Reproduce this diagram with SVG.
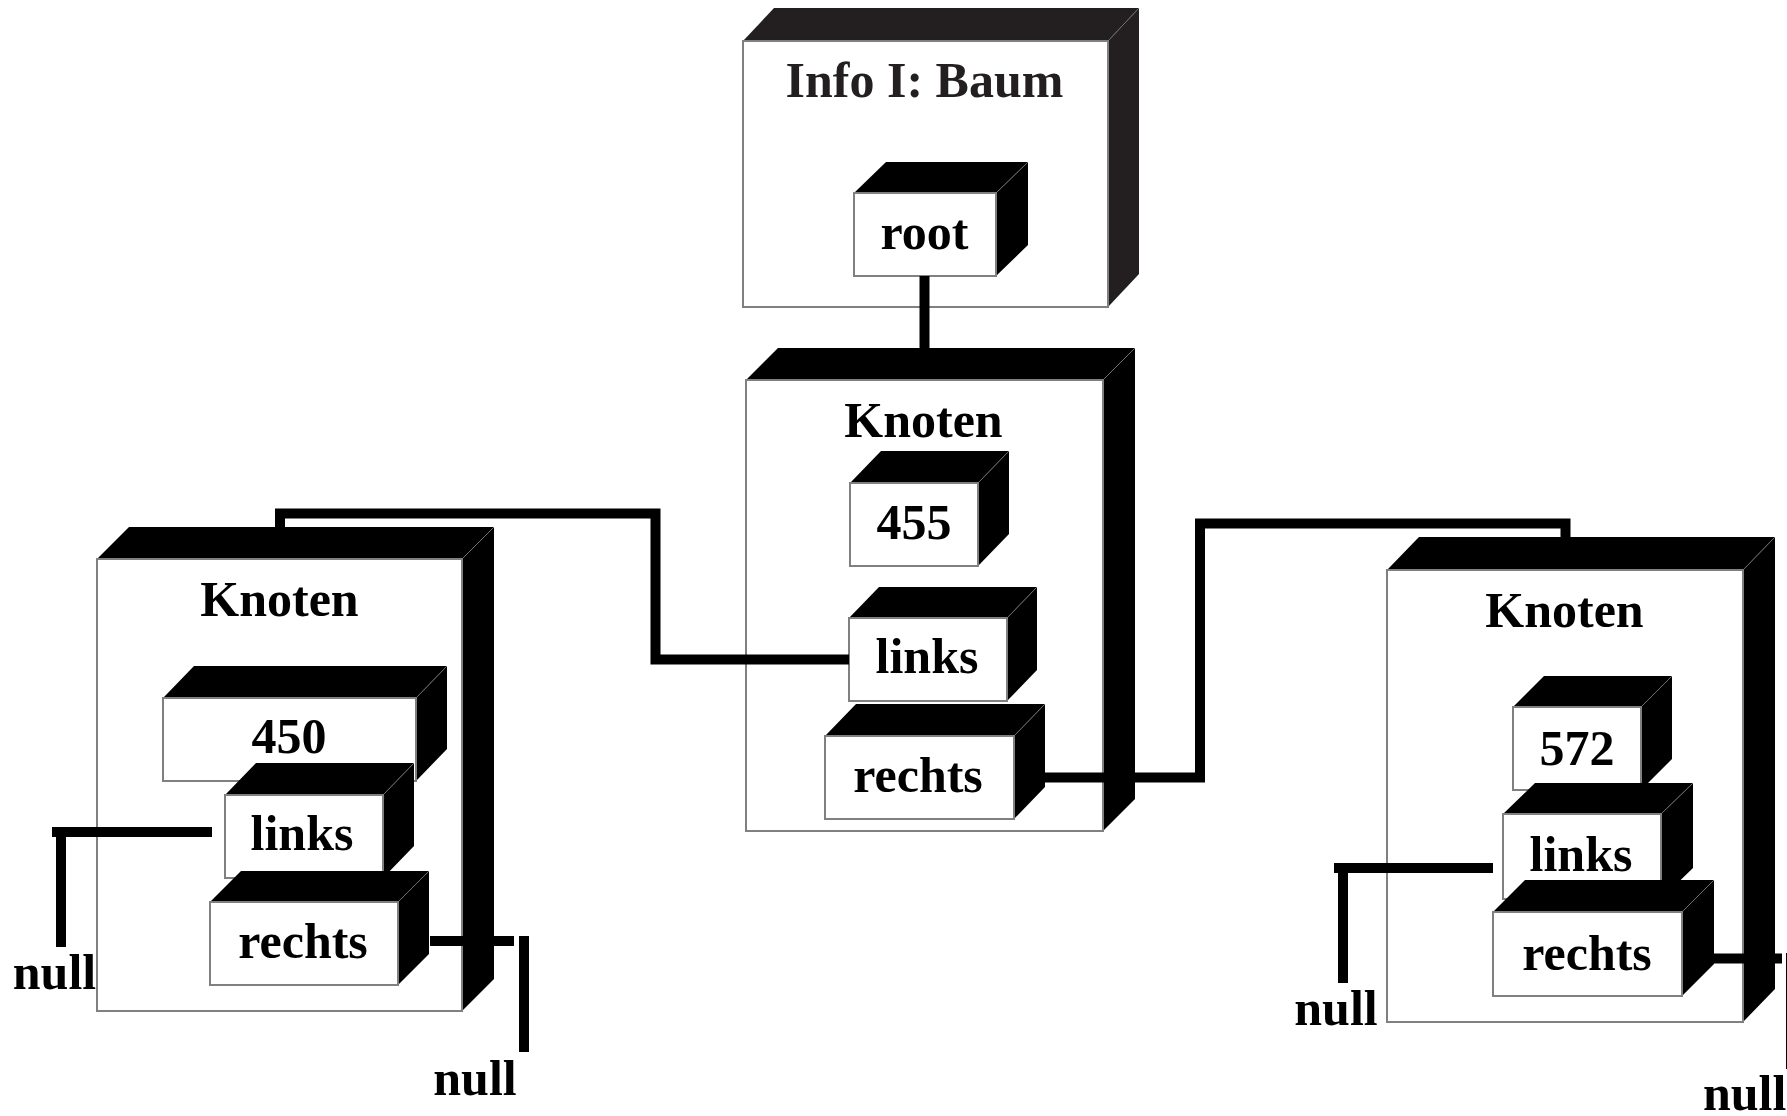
<svg xmlns="http://www.w3.org/2000/svg" width="1787" height="1116" viewBox="0 0 1787 1116">
  <style>
    .front { fill: #ffffff; stroke: #808080; stroke-width: 2; }
    .depth { fill: #000000; }
    .depth.dark { fill: #231f20; }
    .edge { stroke: #6e6e6e; stroke-width: 1; fill: none; }
    .lbl { font-family: "Liberation Serif", "Times New Roman", serif; font-weight: bold; font-size: 50px; fill: #000000; text-anchor: middle; }
    .title { fill: #231f20; }
    .wire { fill: none; stroke: #000000; stroke-width: 10; stroke-linecap: butt; stroke-linejoin: miter; }
  </style>
  <rect width="1787" height="1116" fill="#ffffff"/>

  <!-- class box: Info I: Baum -->
  <g id="info-baum">
    <polygon class="depth dark" points="743,41 774,8 1139,8 1108,41"/>
    <polygon class="depth dark" points="1108,41 1139,8 1139,274 1108,307"/>
    <line class="edge" x1="1108" y1="41" x2="1139" y2="8"/>
    <rect class="front" x="743" y="41" width="365" height="266"/>
    <text class="lbl title" x="924.5" y="97">Info I: Baum</text>
  </g>

  <g id="root">
    <polygon class="depth" points="854,193 886,162 1028,162 996,193"/>
    <polygon class="depth" points="996,193 1028,162 1028,245 996,276"/>
    <line class="edge" x1="996" y1="193" x2="1028" y2="162"/>
    <rect class="front" x="854" y="193" width="142" height="83"/>
    <text class="lbl" x="924.5" y="249">root</text>
  </g>

  <!-- node 455 -->
  <g id="knoten-455">
    <polygon class="depth" points="746,380 778,348 1135,348 1103,380"/>
    <polygon class="depth" points="1103,380 1135,348 1135,799 1103,831"/>
    <line class="edge" x1="1103" y1="380" x2="1135" y2="348"/>
    <rect class="front" x="746" y="380" width="357" height="451"/>
    <text class="lbl" x="923.5" y="437">Knoten</text>
  </g>
  <g id="wert-455">
    <polygon class="depth" points="850,483 881,451 1009,451 978,483"/>
    <polygon class="depth" points="978,483 1009,451 1009,534 978,566"/>
    <line class="edge" x1="978" y1="483" x2="1009" y2="451"/>
    <rect class="front" x="850" y="483" width="128" height="83"/>
    <text class="lbl" x="914" y="539">455</text>
  </g>
  <g id="links-455">
    <polygon class="depth" points="849,618 879,587 1037,587 1007,618"/>
    <polygon class="depth" points="1007,618 1037,587 1037,670 1007,701"/>
    <line class="edge" x1="1007" y1="618" x2="1037" y2="587"/>
    <rect class="front" x="849" y="618" width="158" height="83"/>
    <text class="lbl" x="927" y="673">links</text>
  </g>
  <g id="rechts-455">
    <polygon class="depth" points="825,736 856,704 1045,704 1014,736"/>
    <polygon class="depth" points="1014,736 1045,704 1045,787 1014,819"/>
    <line class="edge" x1="1014" y1="736" x2="1045" y2="704"/>
    <rect class="front" x="825" y="736" width="189" height="83"/>
    <text class="lbl" x="918" y="792">rechts</text>
  </g>

  <!-- node 450 -->
  <g id="knoten-450">
    <polygon class="depth" points="97,559 129,527 494,527 462,559"/>
    <polygon class="depth" points="462,559 494,527 494,979 462,1011"/>
    <line class="edge" x1="462" y1="559" x2="494" y2="527"/>
    <rect class="front" x="97" y="559" width="365" height="452"/>
    <text class="lbl" x="279.5" y="616">Knoten</text>
  </g>
  <g id="wert-450">
    <polygon class="depth" points="163,698 194,666 447,666 416,698"/>
    <polygon class="depth" points="416,698 447,666 447,749 416,781"/>
    <line class="edge" x1="416" y1="698" x2="447" y2="666"/>
    <rect class="front" x="163" y="698" width="253" height="83"/>
    <text class="lbl" x="289" y="753">450</text>
  </g>
  <g id="links-450">
    <polygon class="depth" points="225,795 256,763 414,763 383,795"/>
    <polygon class="depth" points="383,795 414,763 414,846 383,878"/>
    <line class="edge" x1="383" y1="795" x2="414" y2="763"/>
    <rect class="front" x="225" y="795" width="158" height="83"/>
    <text class="lbl" x="302" y="850">links</text>
  </g>
  <g id="rechts-450">
    <polygon class="depth" points="210,902 241,871 429,871 398,902"/>
    <polygon class="depth" points="398,902 429,871 429,954 398,985"/>
    <line class="edge" x1="398" y1="902" x2="429" y2="871"/>
    <rect class="front" x="210" y="902" width="188" height="83"/>
    <text class="lbl" x="303" y="958">rechts</text>
  </g>

  <!-- node 572 -->
  <g id="knoten-572">
    <polygon class="depth" points="1387,570 1419,537 1775,537 1743,570"/>
    <polygon class="depth" points="1743,570 1775,537 1775,989 1743,1022"/>
    <line class="edge" x1="1743" y1="570" x2="1775" y2="537"/>
    <rect class="front" x="1387" y="570" width="356" height="452"/>
    <text class="lbl" x="1564.5" y="626.5">Knoten</text>
  </g>
  <g id="wert-572">
    <polygon class="depth" points="1513,707 1544,676 1672,676 1641,707"/>
    <polygon class="depth" points="1641,707 1672,676 1672,759 1641,790"/>
    <line class="edge" x1="1641" y1="707" x2="1672" y2="676"/>
    <rect class="front" x="1513" y="707" width="128" height="83"/>
    <text class="lbl" x="1577" y="765">572</text>
  </g>
  <g id="links-572">
    <polygon class="depth" points="1503,814 1535,783 1693,783 1661,814"/>
    <polygon class="depth" points="1661,814 1693,783 1693,868 1661,899"/>
    <line class="edge" x1="1661" y1="814" x2="1693" y2="783"/>
    <rect class="front" x="1503" y="814" width="158" height="85"/>
    <text class="lbl" x="1581" y="871">links</text>
  </g>
  <g id="rechts-572">
    <polygon class="depth" points="1493,912 1525,880 1714,880 1682,912"/>
    <polygon class="depth" points="1682,912 1714,880 1714,964 1682,996"/>
    <line class="edge" x1="1682" y1="912" x2="1714" y2="880"/>
    <rect class="front" x="1493" y="912" width="189" height="84"/>
    <text class="lbl" x="1587" y="970">rechts</text>
  </g>

  <!-- references between fields and nodes -->
  <g id="connectors">
    <path class="wire" d="M924.5 276 V352"/>
    <path class="wire" d="M849 659.5 H655.5 V513.5 H280 V530"/>
    <path class="wire" d="M1045 777.5 H1200 V523.5 H1565.5 V540"/>
    <path class="wire" d="M52 832 H212"/>
    <path class="wire" d="M61 827 V947"/>
    <path class="wire" d="M430 941 H514"/>
    <path class="wire" d="M524 936 V1052"/>
    <path class="wire" d="M1334 868 H1493"/>
    <path class="wire" d="M1343 863 V983"/>
    <path class="wire" d="M1713 958.5 H1782"/>
    <path class="wire" d="M1791 953 V1069"/>
  </g>

  <!-- null ends -->
  <g id="null-labels">
    <text class="lbl" x="54.5" y="989">null</text>
    <text class="lbl" x="475" y="1095">null</text>
    <text class="lbl" x="1336" y="1025">null</text>
    <text class="lbl" x="1703" y="1110" text-anchor="start" style="text-anchor:start">null</text>
  </g>
</svg>
